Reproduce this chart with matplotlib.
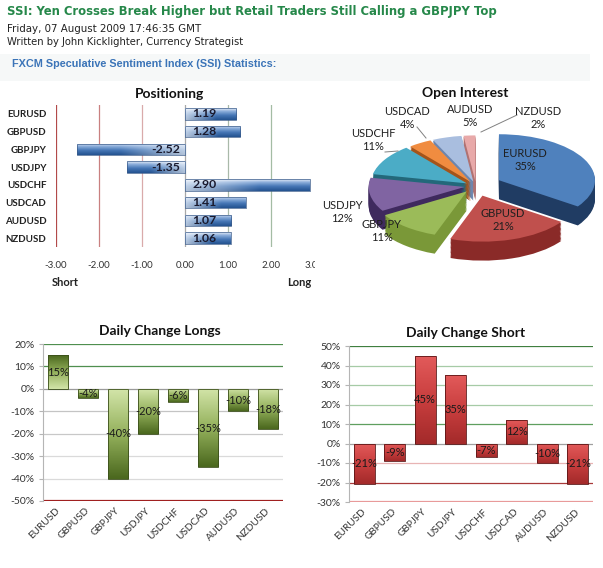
import numpy as np
import matplotlib
matplotlib.use("Agg")
import matplotlib.pyplot as plt
from matplotlib.colors import LinearSegmentedColormap
from matplotlib.transforms import Bbox, TransformedBbox
from matplotlib.patches import Rectangle

# ---------------------------------------------------------------------------
# Data
# ---------------------------------------------------------------------------
pairs = ["EURUSD", "GBPUSD", "GBPJPY", "USDJPY", "USDCHF", "USDCAD", "AUDUSD", "NZDUSD"]
positioning = [1.19, 1.28, -2.52, -1.35, 2.90, 1.41, 1.07, 1.06]
open_interest = [35, 21, 11, 12, 11, 4, 5, 2]
longs_change = [15, -4, -40, -20, -6, -35, -10, -18]
shorts_change = [-21, -9, 45, 35, -7, 12, -10, -21]

pos_ticks = [-3, -2, -1, 0, 1, 2, 3]
longs_ticks = [20, 10, 0, -10, -20, -30, -40, -50]
shorts_ticks = [50, 40, 30, 20, 10, 0, -10, -20, -30]

headline = "SSI: Yen Crosses Break Higher but Retail Traders Still Calling a GBPJPY Top"
dateline = "Friday, 07 August 2009 17:46:35 GMT"
byline = "Written by John Kicklighter, Currency Strategist"
section = "FXCM Speculative Sentiment Index (SSI) Statistics:"

# ---------------------------------------------------------------------------
# Style
# ---------------------------------------------------------------------------
W, H = 603, 568
CF = "Lato"           # stand-in for Calibri
HF = "DejaVu Sans"    # stand-in for Verdana

pos_grid = {-3: "#b24a4a", -2: "#c98080", -1: "#d9aaaa", 0: "#a8a8a8", 1: "#a9b9a9", 2: "#a4bca4"}
longs_grid = {20: "#4f8f4f", 10: "#4f8f4f", 0: "#9a9a9a", -10: "#c4c4c4", -20: "#c8c8c8",
              -30: "#dadada", -40: "#dadada", -50: "#a02020"}
shorts_grid = {50: "#3f7f3f", 40: "#a6cba6", 30: "#a6cba6", 20: "#a6cba6", 10: "#5f9f5f",
               0: "#a0a0a0", -10: "#e8b4b4", -20: "#a83a3a", -30: "#e89a9a"}

pie_top = ["#4f81bd", "#c0504d", "#9bbb59", "#8064a2", "#4bacc6", "#f08c40", "#a9bedf", "#e8a9a9"]
pie_side = ["#203c63", "#8a2a28", "#7a9838", "#3f2a5e", "#23687a", "#a4541a", "#6d86ae", "#b07272"]
pie_explode = [0.27, 0.22, 0.15, 0.12, 0.11, 0.10, 0.10, 0.10]
# label anchors in picture pixels
pie_label_px = [(525, 160), (503, 220), (382, 231), (342, 212),
                (373, 140), (407, 118), (470, 116), (538, 118)]

fig = plt.figure(figsize=(W / 100, H / 100), dpi=100)


def px_axes(left, top, right, bottom):
    return fig.add_axes([left / W, 1 - bottom / H, (right - left) / W, (bottom - top) / H])


def fill_gradient(ax, bar, img):
    bb = bar.get_bbox()
    x0, x1 = sorted([bb.x0, bb.x1])
    y0, y1 = sorted([bb.y0, bb.y1])
    im = ax.imshow(img, extent=(x0, x1, y0, y1), origin="lower", aspect="auto",
                   interpolation="bilinear", zorder=2)
    im.set_clip_path(bar)


# ---------------------------------------------------------------------------
# Positioning (horizontal bars)
# ---------------------------------------------------------------------------
ax1 = px_axes(56, 105, 314, 247)
ypos = np.arange(len(pairs))[::-1]
bars = ax1.barh(ypos, positioning, height=0.66, color="none", edgecolor="#3a5b8a",
                linewidth=0.5, zorder=3)
blue = LinearSegmentedColormap.from_list(
    "pos", [(0, "#24528f"), (0.4, "#4677b6"), (0.75, "#8fb0dc"), (1, "#e8eff9")])
t = np.linspace(0, 1, 40)[:, None]
for bar, v in zip(bars, positioning):
    s = np.linspace(0, 1, 160)[None, :]
    if v < 0:
        s = s[:, ::-1]
    rgb = blue(np.repeat(t, 160, axis=1))[..., :3]
    light = 0.65 * np.clip(1 - s / 0.6, 0, 1)
    rgb = rgb + (1 - rgb) * light[..., None]
    fill_gradient(ax1, bar, rgb)
for y, v in zip(ypos, positioning):
    ax1.text(0.17 if v > 0 else -0.12, y, f"{v:.2f}", ha="left" if v > 0 else "right",
             va="center", fontsize=8.8, fontweight="bold", color="#1a1a2e",
             family=CF, zorder=4)
for xv, c in pos_grid.items():
    ax1.axvline(xv, color=c, lw=0.9, zorder=1)
ax1.set_xlim(-3, 3)
ax1.set_ylim(-0.5, 7.5)
ax1.set_xticks(pos_ticks, [f"{v:.2f}" for v in pos_ticks])
ax1.set_yticks(ypos, pairs)
ax1.tick_params(axis="x", length=0, pad=10, labelsize=7, labelcolor="#333333")
ax1.tick_params(axis="y", length=0, pad=7, labelsize=7, labelcolor="#222222")
for lbl in ax1.get_yticklabels():
    lbl.set_fontweight("bold")
    lbl.set_family(CF)
clip = TransformedBbox(Bbox([[0, 0], [315 / W, 1]]), fig.transFigure)
for lbl in ax1.get_xticklabels():
    lbl.set_family(CF)
    lbl.set_clip_on(True)
    lbl.set_clip_box(clip)
for sp in ax1.spines.values():
    sp.set_visible(False)

# ---------------------------------------------------------------------------
# Open interest (pseudo 3-D exploded pie)
# ---------------------------------------------------------------------------
cx, cy, rx, ry, depth_px = 476, 186, 96, 46, 19
axp = px_axes(325, 95, 603, 290)
for k in np.linspace(depth_px / ry, 0, 16)[:-1]:
    axp.pie(open_interest, explode=pie_explode, colors=pie_side, startangle=90,
            counterclock=False, center=(0, -k), wedgeprops=dict(linewidth=0))
axp.pie(open_interest, explode=pie_explode, colors=pie_top, startangle=90,
        counterclock=False, wedgeprops=dict(linewidth=0))
axp.set_aspect("auto")
axp.set_xlim(-(cx - 325) / rx, (603 - cx) / rx)
axp.set_ylim(-(290 - cy) / ry, (cy - 95) / ry)
axp.axis("off")

# ---------------------------------------------------------------------------
# Daily change charts
# ---------------------------------------------------------------------------
def change_chart(box, values, ticks, grid, cmap, edge, by_tip):
    ax = px_axes(*box)
    x = np.arange(len(pairs))
    bars = ax.bar(x, values, width=0.68, color="none", edgecolor=edge,
                  linewidth=0.6, zorder=3)
    tt = np.linspace(0, 1, 80)[:, None]
    for bar, v in zip(bars, values):
        s = (tt if v > 0 else 1 - tt) if by_tip else 1 - tt
        fill_gradient(ax, bar, cmap(np.repeat(s, 2, axis=1))[..., :3])
        ax.text(bar.get_x() + bar.get_width() / 2, v / 2, f"{v}%", ha="center",
                va="center", fontsize=8, color="#1a1a1a", family=CF, zorder=4)
    for yv, c in grid.items():
        ax.axhline(yv, color=c, lw=1.6 if yv == ticks[-1] else 0.9, zorder=1)
    ax.set_xlim(-0.5, len(pairs) - 0.5)
    ax.set_ylim(ticks[-1], ticks[0])
    ax.set_yticks(ticks, [f"{v}%" for v in ticks])
    ax.set_xticks(x, pairs)
    ax.tick_params(axis="y", length=3, color="#b5b5b5", pad=3, labelsize=7.5,
                   labelcolor="#333333")
    ax.tick_params(axis="x", length=0, pad=6, labelsize=7.2, labelcolor="#333333")
    for lbl in ax.get_xticklabels():
        lbl.set_rotation(45)
        lbl.set_ha("right")
        lbl.set_va("center")
        lbl.set_rotation_mode("anchor")
        lbl.set_family(CF)
    for lbl in ax.get_yticklabels():
        lbl.set_family(CF)
    for name, sp in ax.spines.items():
        sp.set_visible(name == "left")
    ax.spines["left"].set_color("#b5b5b5")
    return ax


green = LinearSegmentedColormap.from_list("g", ["#d2e4a8", "#94b15c", "#4b681e"])
red = LinearSegmentedColormap.from_list("r", ["#e25a5a", "#c83e3e", "#a32a2a"])

change_chart((43, 344, 283, 501), longs_change, longs_ticks, longs_grid, green, "#3b4f1a", True)
change_chart((349, 346, 593, 502), shorts_change, shorts_ticks, shorts_grid, red, "#5a1515", False)

# ---------------------------------------------------------------------------
# Overlay: header, titles, pie labels
# ---------------------------------------------------------------------------
ov = fig.add_axes([0, 0, 1, 1])
ov.set_xlim(0, W)
ov.set_ylim(H, 0)
ov.axis("off")

ov.add_patch(Rectangle((0, 54), 590, 27, facecolor="#f6f8f8", edgecolor="none", zorder=0))
ov.text(7, 12, headline, fontsize=8.35, fontweight="bold", color="#26884a", family=HF,
        va="center", ha="left")
ov.text(7, 29, dateline, fontsize=7.4, color="#222222", family=HF, va="center")
ov.text(7, 42, byline, fontsize=7.2, color="#222222", family=HF, va="center")
ov.text(12, 64, section, fontsize=7.8, fontweight="bold", color="#3b74b8",
        family="Liberation Sans", va="center")

for txt, x, y in [("Positioning", 170, 94), ("Open Interest", 465, 93),
                  ("Daily Change Longs", 160, 331), ("Daily Change Short", 466, 333)]:
    ov.text(x, y, txt, fontsize=10, fontweight="bold", color="#111111", family=CF,
            ha="center", va="center")
ov.text(65, 282, "Short", fontsize=8, fontweight="bold", color="#222222", family=CF,
        ha="center", va="center")
ov.text(299, 283, "Long", fontsize=8, fontweight="bold", color="#222222", family=CF,
        ha="center", va="center")

for name, val, (x, y) in zip(pairs, open_interest, pie_label_px):
    ov.text(x, y, f"{name}\n{val}%", fontsize=8, color="#1f1f1f", family=CF,
            ha="center", va="center", linespacing=1.15)
for (x0, y0), (x1, y1) in [((385, 152), (398, 151)), ((417, 127), (426, 138)),
                           ((517, 115), (481, 132))]:
    ov.plot([x0, x1], [y0, y1], color="#808080", lw=0.7)

fig.savefig("out.png", dpi=100)
